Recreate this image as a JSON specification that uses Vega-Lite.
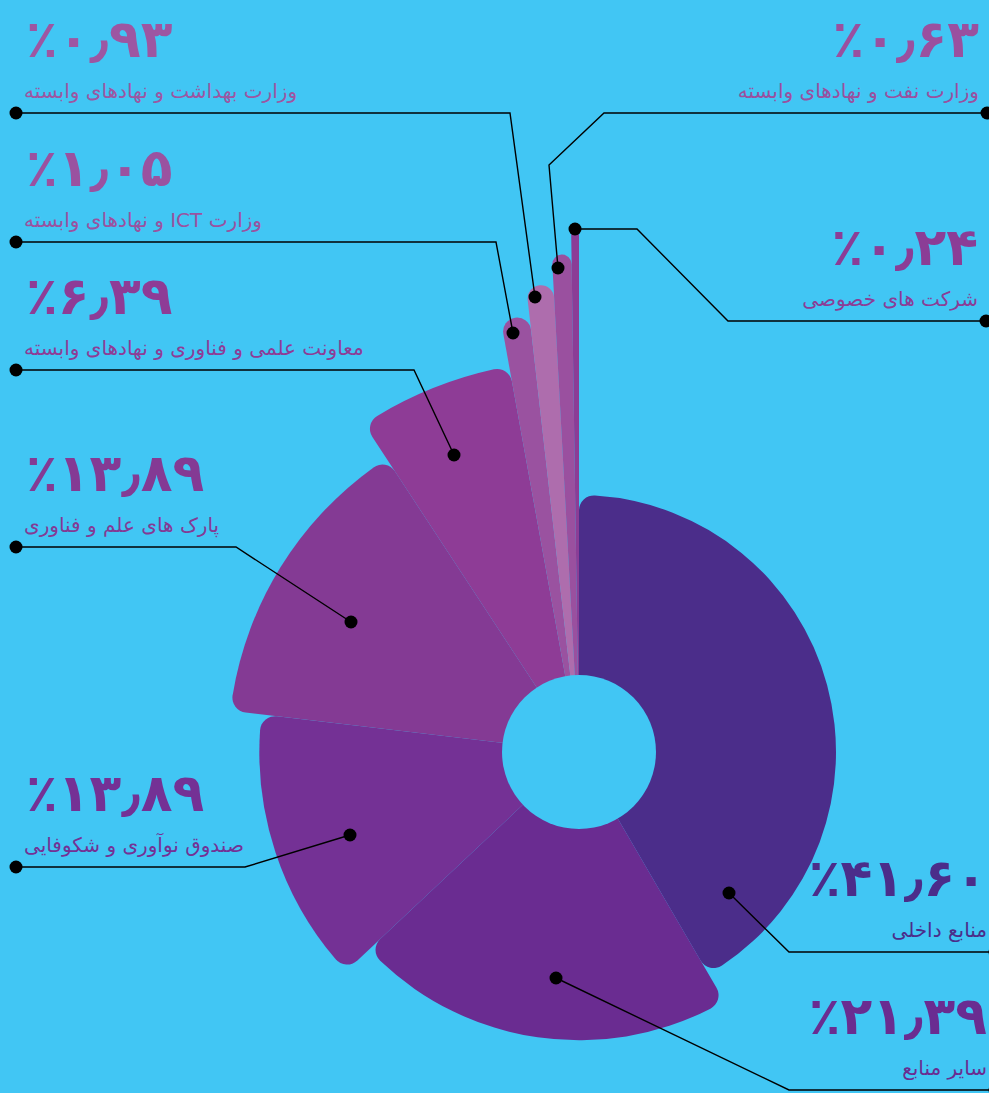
{
  "$schema": "https://vega.github.io/schema/vega-lite/v6.json",
  "width": 989,
  "height": 1093,
  "padding": 0,
  "autosize": {"type": "none"},
  "background": "#41C6F4",
  "config": {"view": {"stroke": null}},
  "datasets": {
    "items": [
      {"name": "منابع داخلی", "label": "منابع داخلی", "value": 41.60, "rank": 1, "pct": "٪۴۱٫۶۰", "side": "right", "endX": 416, "lineY": 200, "dotX": 150, "dotY": 141},
      {"name": "سایر منابع", "label": "سایر منابع", "value": 21.39, "rank": 2, "pct": "٪۲۱٫۳۹", "side": "right", "endX": 416, "lineY": 338, "dotX": -23, "dotY": 226},
      {"name": "صندوق نوآوری و شکوفایی", "label": "صندوق نوآوری و شکوفایی", "value": 13.89, "rank": 3, "pct": "٪۱۳٫۸۹", "side": "left", "endX": -563, "lineY": 115, "dotX": -229, "dotY": 83},
      {"name": "پارک های علم و فناوری", "label": "پارک های علم و فناوری", "value": 13.89, "rank": 4, "pct": "٪۱۳٫۸۹", "side": "left", "endX": -563, "lineY": -205, "dotX": -228, "dotY": -130},
      {"name": "معاونت علمی و فناوری و نهادهای وابسته", "label": "معاونت علمی و فناوری و نهادهای وابسته", "value": 6.39, "rank": 5, "pct": "٪۶٫۳۹", "side": "left", "endX": -563, "lineY": -382, "dotX": -125, "dotY": -297},
      {"name": "وزارت ICT و نهادهای وابسته", "label": "\u202bوزارت ICT و نهادهای وابسته\u202c", "value": 1.05, "rank": 6, "pct": "٪۱٫۰۵", "side": "left", "endX": -563, "lineY": -510, "dotX": -66, "dotY": -419},
      {"name": "وزارت بهداشت و نهادهای وابسته", "label": "وزارت بهداشت و نهادهای وابسته", "value": 0.93, "rank": 7, "pct": "٪۰٫۹۳", "side": "left", "endX": -563, "lineY": -639, "dotX": -44, "dotY": -455},
      {"name": "وزارت نفت و نهادهای وابسته", "label": "وزارت نفت و نهادهای وابسته", "value": 0.63, "rank": 8, "pct": "٪۰٫۶۳", "side": "right", "endX": 408, "lineY": -639, "dotX": -21, "dotY": -484},
      {"name": "شرکت های خصوصی", "label": "شرکت های خصوصی", "value": 0.24, "rank": 9, "pct": "٪۰٫۲۴", "side": "right", "endX": 407, "lineY": -431, "dotX": -4, "dotY": -523}
    ],
    "leaders": [
      {"name": "وزارت بهداشت و نهادهای وابسته", "seq": 1, "lx": -563, "ly": -639},
      {"name": "وزارت بهداشت و نهادهای وابسته", "seq": 2, "lx": -69, "ly": -639},
      {"name": "وزارت بهداشت و نهادهای وابسته", "seq": 3, "lx": -44, "ly": -455},
      {"name": "وزارت ICT و نهادهای وابسته", "seq": 1, "lx": -563, "ly": -510},
      {"name": "وزارت ICT و نهادهای وابسته", "seq": 2, "lx": -83, "ly": -510},
      {"name": "وزارت ICT و نهادهای وابسته", "seq": 3, "lx": -66, "ly": -419},
      {"name": "معاونت علمی و فناوری و نهادهای وابسته", "seq": 1, "lx": -563, "ly": -382},
      {"name": "معاونت علمی و فناوری و نهادهای وابسته", "seq": 2, "lx": -165, "ly": -382},
      {"name": "معاونت علمی و فناوری و نهادهای وابسته", "seq": 3, "lx": -125, "ly": -297},
      {"name": "پارک های علم و فناوری", "seq": 1, "lx": -563, "ly": -205},
      {"name": "پارک های علم و فناوری", "seq": 2, "lx": -343, "ly": -205},
      {"name": "پارک های علم و فناوری", "seq": 3, "lx": -228, "ly": -130},
      {"name": "صندوق نوآوری و شکوفایی", "seq": 1, "lx": -563, "ly": 115},
      {"name": "صندوق نوآوری و شکوفایی", "seq": 2, "lx": -334, "ly": 115},
      {"name": "صندوق نوآوری و شکوفایی", "seq": 3, "lx": -229, "ly": 83},
      {"name": "وزارت نفت و نهادهای وابسته", "seq": 1, "lx": 408, "ly": -639},
      {"name": "وزارت نفت و نهادهای وابسته", "seq": 2, "lx": 25, "ly": -639},
      {"name": "وزارت نفت و نهادهای وابسته", "seq": 3, "lx": -30, "ly": -587},
      {"name": "وزارت نفت و نهادهای وابسته", "seq": 4, "lx": -21, "ly": -484},
      {"name": "شرکت های خصوصی", "seq": 1, "lx": 407, "ly": -431},
      {"name": "شرکت های خصوصی", "seq": 2, "lx": 149, "ly": -431},
      {"name": "شرکت های خصوصی", "seq": 3, "lx": 58, "ly": -523},
      {"name": "شرکت های خصوصی", "seq": 4, "lx": -4, "ly": -523},
      {"name": "منابع داخلی", "seq": 1, "lx": 416, "ly": 200},
      {"name": "منابع داخلی", "seq": 2, "lx": 210, "ly": 200},
      {"name": "منابع داخلی", "seq": 3, "lx": 150, "ly": 141},
      {"name": "سایر منابع", "seq": 1, "lx": 416, "ly": 338},
      {"name": "سایر منابع", "seq": 2, "lx": 210, "ly": 338},
      {"name": "سایر منابع", "seq": 3, "lx": -23, "ly": 226}
    ]
  },
  "layer": [
    {
      "data": {"name": "items"},
      "transform": [
        {"stack": "value", "sort": [{"field": "rank", "order": "ascending"}], "as": ["v0", "v1"]}
      ],
      "mark": {"type": "arc", "cornerRadius": 15},
      "encoding": {
        "x": {"datum": 0, "type": "quantitative", "scale": {"domain": [-579, 410], "nice": false, "zero": false}, "axis": null},
        "y": {"datum": 0, "type": "quantitative", "scale": {"domain": [-752, 341], "reverse": true, "nice": false, "zero": false}, "axis": null},
        "theta": {"field": "v0", "type": "quantitative", "stack": null, "scale": {"domain": [0, 100.01], "nice": false, "zero": false}},
        "theta2": {"field": "v1"},
        "radius": {"field": "rank", "type": "quantitative", "scale": {"type": "linear", "domain": [0, 1, 4, 5, 6, 9], "range": [0, 257, 351, 392, 439, 527], "zero": true, "nice": false}},
        "color": {
          "field": "name", "type": "nominal", "legend": null,
          "scale": {
            "domain": ["منابع داخلی", "سایر منابع", "صندوق نوآوری و شکوفایی", "پارک های علم و فناوری", "معاونت علمی و فناوری و نهادهای وابسته", "وزارت ICT و نهادهای وابسته", "وزارت بهداشت و نهادهای وابسته", "وزارت نفت و نهادهای وابسته", "شرکت های خصوصی"],
            "range": ["#4B2D8A", "#6A2C91", "#743195", "#843A94", "#8E3C96", "#9A52A0", "#AE6DAD", "#9A509F", "#8B3D96"]
          }
        }
      }
    },
    {
      "data": {"values": [{"hole": "center"}]},
      "mark": {"type": "point", "filled": true, "shape": "circle", "size": 23716, "color": "#41C6F4", "opacity": 1},
      "encoding": {
        "x": {"datum": 0, "type": "quantitative"},
        "y": {"datum": 0, "type": "quantitative"}
      }
    },
    {
      "data": {"name": "leaders"},
      "mark": {"type": "line", "color": "#000000", "strokeWidth": 1.4},
      "encoding": {
        "x": {"field": "lx", "type": "quantitative"},
        "y": {"field": "ly", "type": "quantitative"},
        "detail": {"field": "name", "type": "nominal"},
        "order": {"field": "seq", "type": "quantitative"}
      }
    },
    {
      "data": {"name": "items"},
      "mark": {"type": "point", "filled": true, "shape": "circle", "size": 169, "color": "#000000", "opacity": 1},
      "encoding": {
        "x": {"field": "dotX", "type": "quantitative"},
        "y": {"field": "dotY", "type": "quantitative"}
      }
    },
    {
      "data": {"name": "items"},
      "mark": {"type": "point", "filled": true, "shape": "circle", "size": 169, "color": "#000000", "opacity": 1},
      "encoding": {
        "x": {"field": "endX", "type": "quantitative"},
        "y": {"field": "lineY", "type": "quantitative"}
      }
    },
    {
      "data": {"name": "items"},
      "transform": [{"filter": "datum.side === 'left'"}],
      "mark": {"type": "text", "align": "left", "baseline": "alphabetic", "dx": 10, "dy": -56, "font": "DejaVu Sans", "fontWeight": "bold", "fontSize": 52},
      "encoding": {
        "x": {"field": "endX", "type": "quantitative"},
        "y": {"field": "lineY", "type": "quantitative"},
        "text": {"field": "pct"},
        "fill": {
          "field": "name", "type": "nominal", "legend": null,
          "scale": {
            "domain": ["منابع داخلی", "سایر منابع", "صندوق نوآوری و شکوفایی", "پارک های علم و فناوری", "معاونت علمی و فناوری و نهادهای وابسته", "وزارت ICT و نهادهای وابسته", "وزارت بهداشت و نهادهای وابسته", "وزارت نفت و نهادهای وابسته", "شرکت های خصوصی"],
            "range": ["#4B2D8A", "#6A2C91", "#743195", "#843A94", "#8E3C96", "#9A52A0", "#9D56A2", "#9A509F", "#8B3D96"]
          }
        }
      }
    },
    {
      "data": {"name": "items"},
      "transform": [{"filter": "datum.side === 'right'"}],
      "mark": {"type": "text", "align": "right", "baseline": "alphabetic", "dx": -8, "dy": -56, "font": "DejaVu Sans", "fontWeight": "bold", "fontSize": 52},
      "encoding": {
        "x": {"field": "endX", "type": "quantitative"},
        "y": {"field": "lineY", "type": "quantitative"},
        "text": {"field": "pct"},
        "fill": {"field": "name", "type": "nominal", "legend": null}
      }
    },
    {
      "data": {"name": "items"},
      "transform": [{"filter": "datum.side === 'left'"}],
      "mark": {"type": "text", "align": "left", "baseline": "alphabetic", "dx": 8, "dy": -15, "font": "DejaVu Sans", "fontSize": 20},
      "encoding": {
        "x": {"field": "endX", "type": "quantitative"},
        "y": {"field": "lineY", "type": "quantitative"},
        "text": {"field": "label"},
        "fill": {"field": "name", "type": "nominal", "legend": null}
      }
    },
    {
      "data": {"name": "items"},
      "transform": [{"filter": "datum.side === 'right'"}],
      "mark": {"type": "text", "align": "right", "baseline": "alphabetic", "dx": -8, "dy": -15, "font": "DejaVu Sans", "fontSize": 20},
      "encoding": {
        "x": {"field": "endX", "type": "quantitative"},
        "y": {"field": "lineY", "type": "quantitative"},
        "text": {"field": "label"},
        "fill": {"field": "name", "type": "nominal", "legend": null}
      }
    }
  ]
}
